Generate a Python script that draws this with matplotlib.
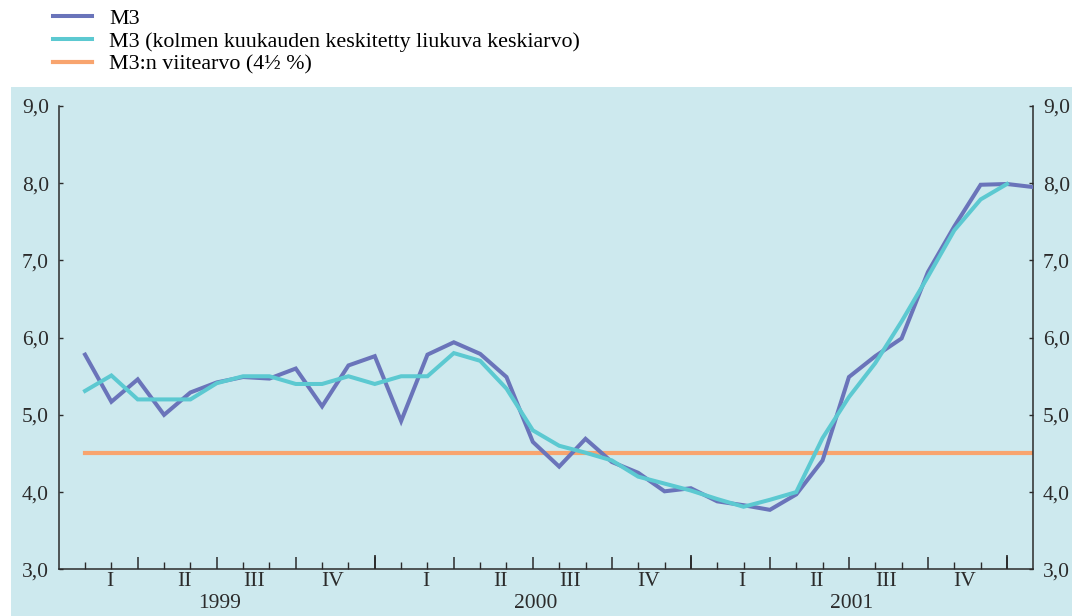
"""
M3 growth chart, 1999-2001, with reference value line.
"""
import matplotlib
matplotlib.use('Agg')
import matplotlib.pyplot as plt
from matplotlib.patches import Rectangle
from matplotlib.ticker import FuncFormatter, FixedLocator

# monthly values, Jan 1999 .. Jan 2002
m3 = [5.78, 5.17, 5.46, 5.00, 5.29, 5.42, 5.49, 5.47, 5.60, 5.11, 5.64, 5.76,
      4.92, 5.78, 5.94, 5.79, 5.49, 4.65, 4.33, 4.69, 4.39, 4.25, 4.01, 4.05,
      3.88, 3.83, 3.77, 3.97, 4.41, 5.49, 5.76, 5.99, 6.85, 7.44, 7.98, 7.99,
      7.95]
# three-month centred moving average, Jan 1999 .. Dec 2001
m3_avg = [5.31, 5.51, 5.20, 5.20, 5.20, 5.41, 5.50, 5.50, 5.40, 5.40, 5.50, 5.40,
          5.50, 5.50, 5.80, 5.70, 5.34, 4.80, 4.60, 4.51, 4.41, 4.20, 4.11, 4.02,
          3.91, 3.81, 3.90, 4.00, 4.70, 5.23, 5.67, 6.21, 6.79, 7.39, 7.79, 7.99]
reference = 4.5

years = ['1999', '2000', '2001']
quarters = ['I', 'II', 'III', 'IV']
labels = ['M3',
          'M3 (kolmen kuukauden keskitetty liukuva keskiarvo)',
          'M3:n viitearvo (4½ %)']

C_M3 = '#6A74BA'
C_AVG = '#5CC9D1'
C_REF = '#F8A46E'
BG = '#CDE9EE'
INK = '#2b2b2b'

plt.rcParams['font.family'] = ['Liberation Serif', 'DejaVu Serif']

fig = plt.figure(figsize=(10.72, 6.16), dpi=100)
fig.patches.append(Rectangle((11 / 1072, 0), 1 - 11 / 1072, 1 - 87 / 616,
                             transform=fig.transFigure, facecolor=BG,
                             edgecolor='none', zorder=-5))

ax = fig.add_axes([58.7 / 1072, 1 - 569.3 / 616, (1033.3 - 58.7) / 1072,
                   (569.3 - 106) / 616])
ax.set_facecolor('none')
ax.set_zorder(2)

x_m3 = list(range(1, len(m3) + 1))
x_avg = list(range(1, len(m3_avg) + 1))
l1, = ax.plot(x_m3, m3, color=C_M3, lw=2.9, solid_joinstyle='miter', zorder=3)
l2, = ax.plot(x_avg, m3_avg, color=C_AVG, lw=2.9, solid_joinstyle='miter', zorder=4)
l3, = ax.plot([x_m3[0], x_m3[-1]], [reference, reference], color=C_REF, lw=3.0, zorder=2)

ax.set_xlim(0, len(m3))
ax.set_ylim(3, 9)

ax.spines['top'].set_visible(False)
for s in ['left', 'right', 'bottom']:
    ax.spines[s].set_color(INK)
    ax.spines[s].set_linewidth(1.1)

fmt = FuncFormatter(lambda v, p: f'{v:.1f}'.replace('.', ','))
ax.yaxis.set_major_locator(FixedLocator([3, 4, 5, 6, 7, 8, 9]))
ax.yaxis.set_major_formatter(fmt)
ax.tick_params(axis='y', which='both', direction='in', length=3, width=1.0,
               color=INK, labelsize=15.5, labelcolor=INK, pad=7,
               left=True, right=True, labelleft=True, labelright=True)

n_months = len(m3_avg)
ax.xaxis.set_major_locator(FixedLocator(list(range(3, n_months + 1, 3))))
ax.xaxis.set_minor_locator(FixedLocator(list(range(1, n_months + 1))))
ax.tick_params(axis='x', which='major', direction='in', length=9, width=1.1,
               color=INK, labelbottom=False)
ax.tick_params(axis='x', which='minor', direction='in', length=5, width=1.0,
               color=INK)
for k in range(1, len(years) + 1):
    ax.axvline(12 * k, ymin=0, ymax=13 / 463, color=INK, lw=1.3, zorder=5)

# quarter and year labels under the axis
q_off = [1.93, 4.77, 7.4, 10.38]
trans = ax.get_xaxis_transform()
for i, yr in enumerate(years):
    for q, off in zip(quarters, q_off):
        ax.text(12 * i + off, -12 / 463, q, transform=trans, ha='center',
                va='center', fontsize=15.5, color=INK)
    ax.text(12 * i + 6.1, -34 / 463, yr, transform=trans, ha='center',
            va='center', fontsize=15.5, color=INK)

fig.legend([l1, l2, l3], labels, loc='upper left',
           bbox_to_anchor=(51 / 1072, 1 - 6 / 616), frameon=False,
           fontsize=15.8, handlelength=1.78, handletextpad=0.78,
           labelspacing=0.12, borderaxespad=0, borderpad=0.1)

fig.savefig('out.png', dpi=100)
